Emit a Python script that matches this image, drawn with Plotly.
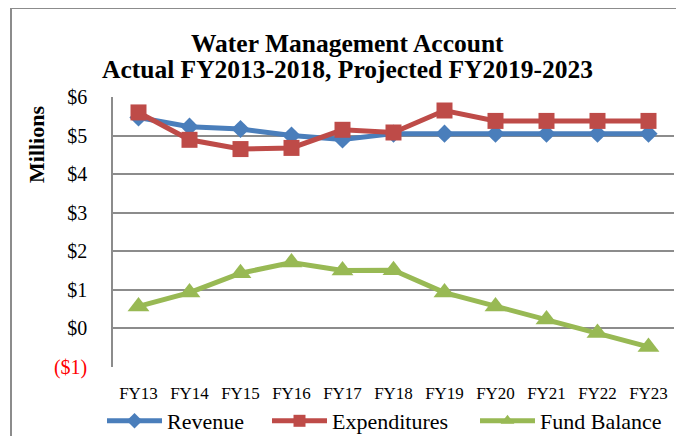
import plotly.graph_objects as go

categories = ["FY13", "FY14", "FY15", "FY16", "FY17", "FY18", "FY19", "FY20", "FY21", "FY22", "FY23"]
revenue = [5.47, 5.23, 5.17, 5.0, 4.9, 5.05, 5.05, 5.05, 5.05, 5.05, 5.05]
expenditures = [5.6, 4.89, 4.65, 4.68, 5.15, 5.08, 5.65, 5.38, 5.38, 5.38, 5.38]
fund_balance = [0.57, 0.93, 1.43, 1.71, 1.5, 1.51, 0.93, 0.57, 0.23, -0.12, -0.48]
y_tickvals = [-1, 0, 1, 2, 3, 4, 5, 6]
y_ticktext = ["<span style='color:#FF0000'>($1)</span>", "$0", "$1", "$2", "$3", "$4", "$5", "$6"]

FONT = "Liberation Serif"
BLUE = "#4A7EBB"
RED = "#BE4B48"
GREEN = "#98B954"
GRID = "#8C8C8C"

# page body margin shifts the figure by 8px; work in reference-pixel coordinates
OFF = 8
W, H = 684, 436
PL, PT, PR, PB = 113, 97, 674, 367  # plot area in reference pixels
L, T = PL - OFF, PT - OFF
R, B = W - (PR - OFF), H - (PB - OFF)
pw, ph = PR - PL, PB - PT


def px_x(x):
    return (x - PL) / pw


def px_y(y):
    return (PB - y) / ph


fig = go.Figure()
fig.add_trace(go.Scatter(x=categories, y=revenue, name="Revenue", mode="lines+markers",
                         legend="legend",
                         line=dict(color=BLUE, width=5),
                         marker=dict(symbol="diamond", size=14, color=BLUE)))
fig.add_trace(go.Scatter(x=categories, y=expenditures, name="Expenditures", mode="lines+markers",
                         legend="legend2",
                         line=dict(color=RED, width=5),
                         marker=dict(symbol="square", size=16, color=RED)))
fig.add_trace(go.Scatter(x=categories, y=fund_balance, name="Fund Balance", mode="lines+markers",
                         legend="legend3",
                         line=dict(color=GREEN, width=5),
                         marker=dict(symbol="triangle-up", size=19, color=GREEN)))


def legend_at(xstart):
    return dict(orientation="h", x=px_x(xstart - 5), xanchor="left", y=px_y(421), yanchor="middle",
                font=dict(family=FONT, size=22, color="black"), itemwidth=55,
                itemsizing="constant", bgcolor="rgba(0,0,0,0)")


fig.update_layout(
    width=W, height=H,
    margin=dict(l=L, r=R, t=T, b=B, autoexpand=False),
    paper_bgcolor="white", plot_bgcolor="white",
    font=dict(family=FONT, color="black", size=17),
    showlegend=True,
    legend=legend_at(107),
    legend2=legend_at(272),
    legend3=legend_at(480),
    xaxis=dict(type="category", range=[-0.5, 10.5], showgrid=False, showline=False,
               ticks="", tickfont=dict(family=FONT, size=17, color="black"),
               ticklabelstandoff=14, zeroline=False, fixedrange=True),
    yaxis=dict(range=[-1, 6], tickvals=y_tickvals, ticktext=y_ticktext,
               showgrid=True, gridcolor=GRID, gridwidth=1.5,
               showline=True, linecolor=GRID, linewidth=1.5,
               zeroline=False, ticks="", ticklabelstandoff=20,
               tickfont=dict(family=FONT, size=20, color="black")),
    annotations=[
        dict(text="<b>Water Management Account</b>", x=px_x(347), y=px_y(43),
             xref="paper", yref="paper", xanchor="center", yanchor="middle", showarrow=False,
             font=dict(family=FONT, size=25.5, color="black")),
        dict(text="<b>Actual FY2013-2018, Projected FY2019-2023</b>", x=px_x(347), y=px_y(70),
             xref="paper", yref="paper", xanchor="center", yanchor="middle", showarrow=False,
             font=dict(family=FONT, size=25.5, color="black")),
        dict(text="<b>Millions</b>", textangle=-90, x=px_x(36), y=px_y(145),
             xref="paper", yref="paper", xanchor="center", yanchor="middle", showarrow=False,
             font=dict(family=FONT, size=22, color="black")),
    ],
    shapes=[
        dict(type="line", xref="paper", yref="paper", x0=px_x(11), x1=px_x(11), y0=px_y(8), y1=px_y(460),
             line=dict(color=GRID, width=2)),
        dict(type="line", xref="paper", yref="paper", x0=px_x(11), x1=px_x(682), y0=px_y(8), y1=px_y(8),
             line=dict(color=GRID, width=2)),
        dict(type="line", xref="paper", yref="paper", x0=px_x(682), x1=px_x(682), y0=px_y(8), y1=px_y(460),
             line=dict(color=GRID, width=2)),
    ],
)

fig.write_html("out.html")
